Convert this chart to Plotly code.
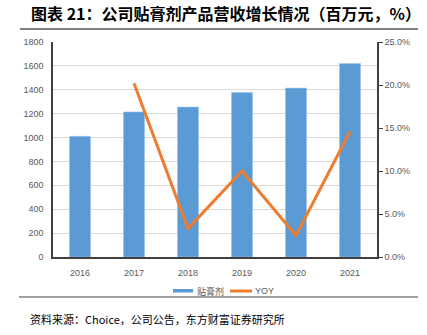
import plotly.graph_objects as go

years = ["2016", "2017", "2018", "2019", "2020", "2021"]
revenue = [1010, 1215, 1255, 1378, 1414, 1620]        # 百万元
yoy = [None, 20.2, 3.3, 10.0, 2.5, 14.6]               # %

W, H = 427, 335
L, R, T, B = 53, 50, 42, 78
PW, PH = W - L - R, H - T - B

def px(xpx):
    return (xpx - L) / PW

def py(ypx):
    return (H - B - ypx) / PH

fig = go.Figure()
fig.add_trace(go.Bar(
    x=years, y=revenue, name="贴膏剂",
    marker=dict(color="#5B9BD5", line=dict(color="#9DC3E6", width=0.6)),
    yaxis="y", showlegend=False,
))
fig.add_trace(go.Scatter(
    x=years, y=yoy, name="YOY", mode="lines",
    line=dict(color="#ED7D31", width=3),
    yaxis="y2", showlegend=False,
))

tick_font = dict(family="Liberation Sans Narrow, Arial Narrow, Liberation Sans, sans-serif", size=9, color="#595959")

fig.update_layout(
    width=W, height=H,
    margin=dict(l=L, r=R, t=T, b=B, pad=0),
    paper_bgcolor="white", plot_bgcolor="white",
    bargap=0.61,
    xaxis=dict(type="category", showgrid=False, showline=True, linecolor="#404040", linewidth=1.5,
               ticks="", tickfont=tick_font, ticklabelstandoff=6),
    yaxis=dict(range=[0, 1800], dtick=200, showgrid=True, gridcolor="#D9D9D9", gridwidth=1.2,
               showline=True, linecolor="#404040", linewidth=1.5, ticks="",
               tickfont=tick_font, zeroline=False, ticklabelstandoff=6),
    yaxis2=dict(range=[0, 25], dtick=5, overlaying="y", side="right", showgrid=False,
                showline=True, linecolor="#404040", linewidth=1.5, ticks="outside",
                ticklen=4, tickcolor="#404040", tickformat=".1f", ticksuffix="%",
                tickfont=tick_font, zeroline=False),
    font=dict(family="Noto Sans CJK SC"),
)

# Title
fig.add_annotation(
    text="<b>图表 21：公司贴膏剂产品营收增长情况（百万元，%）</b>",
    xref="paper", yref="paper", x=px(29), y=py(13),
    showarrow=False, xanchor="left", yanchor="middle",
    font=dict(family="Noto Sans CJK SC", size=16, color="#000000"),
)

# Source note
fig.add_annotation(
    text="资料来源：Choice，公司公告，东方财富证券研究所",
    xref="paper", yref="paper", x=px(28), y=py(319),
    showarrow=False, xanchor="left", yanchor="middle",
    font=dict(family="Noto Sans CJK SC", size=11, color="#000000"),
)

def hline(ypx, x0px, x1px, color, width):
    fig.add_shape(type="line", xref="paper", yref="paper",
                  x0=px(x0px), x1=px(x1px), y0=py(ypx), y1=py(ypx),
                  line=dict(color=color, width=width))

hline(29, 20, 418, "#7F7F7F", 2)
hline(297, 19, 418, "#404040", 1)

# Legend keys
legend_font = dict(family="Noto Sans CJK SC", size=9, color="#595959")
fig.add_shape(type="rect", xref="paper", yref="paper",
              x0=px(173), x1=px(193), y0=py(292.5), y1=py(289),
              fillcolor="#5B9BD5", line=dict(width=0))
fig.add_annotation(text="贴膏剂", xref="paper", yref="paper", x=px(195), y=py(291),
                   showarrow=False, xanchor="left", yanchor="middle", font=legend_font)
hline(291, 230, 252, "#ED7D31", 3)
fig.add_annotation(text="YOY", xref="paper", yref="paper", x=px(253), y=py(291),
                   showarrow=False, xanchor="left", yanchor="middle",
                   font=dict(family="Liberation Sans Narrow, sans-serif", size=9, color="#595959"))

fig.write_html("out.html")
